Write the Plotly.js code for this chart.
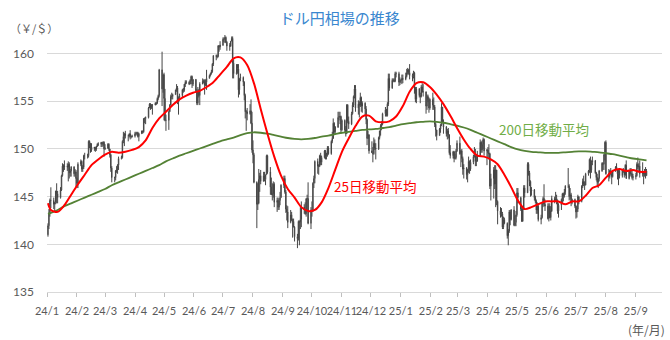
<!DOCTYPE html>
<html>
<head>
<meta charset="utf-8">
<script src="https://cdn.plot.ly/plotly-3.0.1.min.js"></script>
<style>html,body{margin:0;padding:0;background:#fff;}#chart{width:670px;height:340px;}</style>
</head>
<body>
<div id="chart"></div>
<script>
// ---- daily USD/JPY candles, trading days from 2024-01-02 to 2025-09-12 ----
const firstTradingDay = '2024-01-02';

const openPx = [
// 2024-01
141.0,141.95,143.3,144.6,144.6,144.2,144.4,145.6,145.3,144.9,145.7,147.2,148.2,148.1,148.2,148.1,148.4,147.5,147.7,148.1,147.4,147.6,
// 2024-02
146.9,146.4,148.4,148.7,147.9,148.1,149.3,149.3,149.3,150.8,150.6,149.9,150.2,150.1,150.0,150.3,150.5,150.5,150.7,150.5,150.7,
// 2024-03
150.0,150.1,150.5,150.0,149.4,148.0,147.0,147.0,147.7,147.8,148.3,149.0,149.1,150.8,151.3,151.6,151.4,151.4,151.6,151.3,151.3,
// 2024-04
151.35,151.6,151.6,151.7,151.3,151.6,151.9,151.8,153.2,153.2,153.3,154.3,154.7,154.4,154.6,154.6,154.8,154.8,155.3,155.6,158.3,156.3,
// 2024-05
157.8,155.3,153.0,153.0,153.9,154.6,155.5,155.5,155.7,156.2,156.4,154.9,155.4,155.6,156.2,156.2,156.8,157.0,157.0,156.8,157.2,157.6,156.8,
// 2024-06
157.3,156.1,154.8,156.1,155.6,156.8,157.1,157.1,156.7,157.0,157.4,157.7,157.9,158.1,158.9,159.8,159.7,159.7,160.8,160.7,
// 2024-07
160.9,161.5,161.5,161.7,161.2,160.8,160.8,161.3,161.6,159.0,157.9,158.0,158.4,156.2,157.4,157.5,157.0,155.6,153.9,153.9,153.7,154.0,152.7,
// 2024-08
149.9,149.4,146.5,144.2,144.3,146.8,147.2,146.6,147.2,146.8,147.3,149.3,147.6,146.0,145.2,145.3,146.3,144.4,144.6,143.9,144.6,144.9,
// 2024-09
146.2,146.9,145.5,143.7,143.4,142.3,143.1,142.5,142.4,141.8,140.8,140.6,142.4,142.3,142.6,143.9,143.6,143.2,144.8,144.8,142.2,
// 2024-10
143.6,143.5,146.4,146.9,148.7,148.2,148.2,149.3,148.6,149.1,149.8,149.2,149.3,150.1,149.5,150.8,151.1,152.7,151.8,152.3,153.3,153.4,153.4,
// 2024-11
152.0,153.0,152.0,151.6,154.6,152.9,152.6,153.7,154.6,155.5,156.3,154.3,154.7,154.6,155.4,154.5,154.8,154.2,153.1,151.1,151.5,
// 2024-12
149.8,149.6,149.5,150.6,150.1,150.0,151.2,151.9,152.4,152.6,153.7,154.1,153.5,154.7,157.4,156.4,157.2,157.2,157.1,157.9,157.9,157.0,
// 2025-01
157.2,157.2,157.4,157.3,157.6,158.0,158.3,158.0,157.7,157.6,158.0,156.4,155.2,156.3,155.6,155.5,156.5,156.0,156.0,154.5,155.5,155.2,154.3,
// 2025-02
155.2,154.6,154.4,152.6,152.0,151.4,152.1,152.5,154.4,152.8,152.3,151.6,151.9,151.5,149.6,149.3,149.7,149.0,149.1,149.8,
// 2025-03
150.6,149.5,149.8,149.0,147.9,148.0,147.3,147.8,148.7,147.9,148.6,149.2,149.3,148.7,148.7,149.3,150.7,149.9,150.5,151.0,149.8,
// 2025-04
149.9,149.6,149.5,146.1,146.9,147.8,146.3,147.8,144.5,143.5,143.1,143.2,141.8,142.6,142.2,140.9,141.4,143.4,142.6,143.6,142.0,142.3,
// 2025-05
143.1,145.4,144.9,143.7,142.4,143.7,145.9,145.4,148.4,147.5,146.6,145.6,145.7,144.9,144.5,143.6,144.0,142.6,142.8,144.3,144.8,144.2,
// 2025-06
144.0,142.7,144.0,142.8,143.5,144.8,144.6,144.8,144.6,143.5,144.1,144.7,145.3,145.1,145.5,146.1,146.1,145.0,145.2,144.4,144.7,
// 2025-07
144.0,143.4,143.7,145.0,144.5,146.1,146.6,146.3,146.2,147.4,147.7,148.9,147.8,148.6,148.8,147.5,147.0,146.5,146.9,147.7,148.5,148.4,149.4,
// 2025-08
150.7,147.4,147.1,147.7,147.4,147.1,147.7,148.1,147.8,147.4,147.7,147.2,147.8,147.7,147.3,148.3,146.9,147.7,147.4,147.4,147.0,
// 2025-09
147.1,147.2,148.4,148.1,148.2,147.4,147.5,147.4,147.5,147.2
];

const highPx = [
// 2024-01
142.2,143.7,144.8,145.98,144.9,144.4,145.6,146.4,145.6,146.0,147.3,148.5,148.4,148.8,148.5,148.7,148.6,147.9,148.2,148.2,147.9,147.8,
// 2024-02
147.0,148.6,148.9,148.8,148.3,149.4,149.6,149.5,150.9,150.9,150.6,150.6,150.2,150.2,150.3,150.6,150.7,150.7,150.7,150.8,150.8,
// 2024-03
150.5,150.6,150.6,150.0,149.5,148.2,147.1,147.8,148.2,148.4,149.2,149.3,150.9,151.8,151.7,151.9,151.5,151.6,151.97,151.4,151.5,
// 2024-04
151.8,151.8,151.8,151.8,151.7,151.9,151.9,153.2,153.3,153.4,154.4,154.8,154.8,154.7,154.7,154.9,154.9,155.4,155.7,158.4,160.2,157.8,
// 2024-05
158.0,156.3,153.6,154.0,154.7,155.7,155.9,155.8,156.2,156.8,156.6,155.5,155.8,156.3,156.4,156.8,157.2,157.2,157.1,157.3,157.7,157.7,157.3,
// 2024-06
157.3,156.3,156.5,156.3,157.0,157.4,157.3,157.3,157.3,158.3,157.8,158.0,158.3,159.0,159.8,159.9,159.9,160.9,160.9,161.3,
// 2024-07
161.7,161.7,161.95,161.8,161.3,161.1,161.3,161.8,161.8,159.4,158.9,158.9,158.9,157.4,157.9,157.6,157.1,155.8,154.1,154.3,154.7,155.2,153.9,
// 2024-08
150.9,149.6,146.6,146.4,147.9,147.5,147.8,147.6,147.6,147.3,149.4,149.4,148.1,147.0,146.4,146.6,146.5,144.9,144.9,144.8,145.5,146.3,
// 2024-09
147.2,147.2,145.7,144.1,144.0,143.6,143.4,142.7,142.7,141.9,141.1,142.5,142.5,143.9,144.5,144.2,144.4,144.8,145.2,146.5,143.9,
// 2024-10
144.5,146.5,147.2,148.8,149.0,148.4,149.4,149.6,149.3,149.9,149.9,149.6,150.3,150.3,150.9,151.8,153.2,152.8,152.4,153.9,153.9,153.9,153.5,
// 2024-11
153.1,153.1,152.4,154.7,154.7,153.4,153.9,154.9,155.6,156.7,156.7,155.1,155.0,155.9,155.5,155.0,154.9,154.5,153.2,151.9,151.5,
// 2024-12
150.8,150.2,151.2,151.0,150.6,151.3,151.9,152.6,152.9,153.8,154.4,154.2,154.9,157.9,157.9,157.4,157.4,157.4,158.1,158.1,158.1,157.5,
// 2025-01
157.3,157.8,157.8,158.0,158.4,158.5,158.4,158.9,157.9,158.2,158.1,156.5,156.5,156.4,155.9,156.7,156.9,156.8,156.0,155.7,155.7,155.4,155.3,
// 2025-02
155.9,155.4,154.6,152.8,152.0,152.2,152.6,154.8,154.4,153.1,152.4,152.1,152.2,151.5,150.4,149.8,149.8,149.5,150.0,150.9,
// 2025-03
151.3,149.9,150.0,149.2,148.4,148.1,147.9,149.2,148.8,148.9,149.4,150.2,150.0,149.3,149.8,151.0,150.8,150.9,151.2,151.1,150.0,
// 2025-04
150.2,150.5,149.6,147.4,148.1,148.3,148.3,147.8,144.6,143.9,143.8,143.4,142.9,142.8,142.3,141.6,143.6,143.6,143.7,144.0,143.0,143.5,
// 2025-05
145.9,145.9,145.0,144.0,143.9,146.2,146.2,148.6,148.6,147.7,146.7,146.0,145.8,145.1,144.7,144.4,144.3,143.1,144.4,145.0,146.3,144.7,
// 2025-06
144.3,144.3,144.3,144.0,145.1,145.0,145.5,145.2,144.7,144.3,144.8,145.4,145.4,145.8,146.2,148.0,146.3,145.9,145.4,144.8,144.8,
// 2025-07
144.1,144.0,145.2,145.0,146.2,146.9,147.2,146.6,147.5,147.8,149.0,149.2,148.8,149.2,148.8,147.6,147.4,147.0,147.8,148.6,148.6,149.5,150.8,
// 2025-08
150.9,147.9,147.8,148.0,147.7,147.8,148.2,148.5,147.9,147.9,147.9,147.9,148.0,147.8,148.4,148.8,147.8,148.0,148.0,147.7,147.4,
// 2025-09
147.5,148.6,149.1,148.5,148.8,148.6,147.6,147.9,148.1,147.9
];

const lowPx = [
// 2024-01
140.8,141.6,142.9,143.8,143.7,143.4,144.2,144.3,144.3,144.8,145.6,147.1,147.6,147.8,147.7,146.6,146.9,147.1,147.1,147.1,147.1,146.0,
// 2024-02
145.9,145.9,148.2,147.6,147.6,147.9,148.9,149.0,149.1,150.1,149.6,149.7,149.8,149.7,149.8,150.2,150.3,150.2,150.2,150.3,149.2,
// 2024-03
149.9,150.0,149.8,149.1,147.6,146.5,146.5,146.7,147.5,147.4,147.8,148.9,149.0,150.6,150.3,151.1,150.8,151.2,151.0,151.1,151.2,
// 2024-04
151.2,151.5,151.4,151.2,150.8,151.6,151.6,151.7,152.7,152.6,153.2,154.3,154.1,154.2,153.6,154.6,154.6,154.7,155.1,155.4,154.5,155.9,
// 2024-05
153.0,152.9,151.9,152.0,153.9,154.6,155.2,155.2,155.7,156.0,154.7,153.6,155.1,155.4,155.9,156.0,156.5,156.8,156.7,156.8,157.1,156.4,156.6,
// 2024-06
156.0,154.6,154.6,155.4,154.6,156.8,156.9,155.7,156.6,156.2,157.4,157.6,157.8,158.0,158.7,159.3,159.5,159.6,160.2,160.4,
// 2024-07
160.8,161.2,161.1,161.1,160.3,160.3,160.7,161.3,157.4,157.4,157.8,157.9,155.4,155.7,157.1,156.6,155.1,153.2,151.9,153.0,153.6,152.6,149.6,
// 2024-08
148.5,146.4,141.7,143.6,144.2,145.5,146.3,146.6,146.6,146.2,147.3,147.4,145.2,145.2,144.6,144.9,143.9,143.4,143.6,143.6,144.1,144.9,
// 2024-09
145.9,145.3,143.3,142.5,141.7,142.2,142.5,140.7,141.8,140.3,139.6,140.4,139.9,141.6,141.8,143.2,143.1,142.9,143.5,142.1,141.6,
// 2024-10
142.9,143.4,145.9,146.4,147.4,147.3,148.1,148.3,148.3,149.0,148.9,148.9,149.2,149.4,149.4,150.6,151.1,151.5,151.6,152.2,153.0,152.6,151.6,
// 2024-11
151.9,151.7,151.3,151.6,152.7,152.1,152.5,153.6,154.4,155.3,153.9,153.6,153.3,154.4,153.9,153.8,153.5,152.6,150.4,151.1,149.5,
// 2024-12
149.6,148.6,149.4,149.9,148.9,149.9,151.0,151.4,152.0,152.5,153.4,153.4,153.4,154.5,156.1,156.3,157.0,157.0,157.0,157.5,156.6,156.7,
// 2025-01
156.9,156.8,156.9,157.2,157.5,157.8,157.8,157.3,157.1,157.4,155.8,154.9,154.8,155.4,154.8,155.4,155.9,155.5,153.7,154.1,154.9,153.8,154.1,
// 2025-02
154.1,154.1,152.3,151.3,150.9,151.4,151.7,152.4,152.8,151.6,151.3,151.0,151.1,149.4,149.0,149.0,148.6,148.9,148.9,149.7,
// 2025-03
149.4,148.1,148.6,147.3,146.9,146.8,146.5,147.5,147.4,147.7,148.4,149.1,148.2,148.2,148.7,149.3,149.6,149.6,150.0,149.3,148.3,
// 2025-04
149.1,148.9,145.8,144.6,144.8,145.8,143.9,144.1,142.1,142.8,142.9,141.6,141.6,142.1,140.6,139.9,141.2,142.0,142.5,141.9,141.9,141.9,
// 2025-05
142.9,144.3,143.5,142.4,142.4,143.6,144.9,145.4,147.2,146.1,145.0,145.1,144.6,144.3,143.2,143.2,142.4,142.1,142.7,143.9,144.0,143.5,
// 2025-06
142.6,142.4,142.8,142.5,143.4,144.3,144.5,144.2,143.2,142.8,143.6,144.3,144.5,144.9,145.2,145.9,144.6,144.7,144.0,144.2,143.8,
// 2025-07
142.7,142.8,143.4,144.2,144.4,145.9,146.1,145.7,146.2,147.2,147.5,146.9,147.5,148.3,147.4,146.7,146.2,145.9,146.6,147.6,147.8,147.8,148.8,
// 2025-08
147.3,146.6,146.9,147.3,146.3,147.0,147.6,147.9,146.8,146.2,146.9,147.0,147.5,147.0,147.2,146.9,146.8,147.1,147.2,146.8,146.7,
// 2025-09
146.8,147.1,147.9,147.7,147.0,147.1,146.3,147.1,146.9,147.2
];

const closePx = [
// 2024-01
141.95,143.3,144.6,144.6,144.2,144.4,145.6,145.3,144.9,145.7,147.2,148.2,148.1,148.2,148.1,148.4,147.5,147.7,148.1,147.4,147.6,146.9,
// 2024-02
146.4,148.4,148.7,147.9,148.1,149.3,149.3,149.3,150.8,150.6,149.9,150.2,150.1,150.0,150.3,150.5,150.5,150.7,150.5,150.7,150.0,
// 2024-03
150.1,150.5,150.0,149.4,148.0,147.0,147.0,147.7,147.8,148.3,149.0,149.1,150.8,151.3,151.6,151.4,151.4,151.6,151.3,151.3,151.35,
// 2024-04
151.6,151.6,151.7,151.3,151.6,151.9,151.8,153.2,153.2,153.3,154.3,154.7,154.4,154.6,154.6,154.8,154.8,155.3,155.6,158.3,156.3,157.8,
// 2024-05
155.3,153.0,153.0,153.9,154.6,155.5,155.5,155.7,156.2,156.4,154.9,155.4,155.6,156.2,156.2,156.8,157.0,157.0,156.8,157.2,157.6,156.8,157.3,
// 2024-06
156.1,154.8,156.1,155.6,156.8,157.1,157.1,156.7,157.0,157.4,157.7,157.9,158.1,158.9,159.8,159.7,159.7,160.8,160.7,160.9,
// 2024-07
161.5,161.5,161.7,161.2,160.8,160.8,161.3,161.6,159.0,157.9,158.0,158.4,156.2,157.4,157.5,157.0,155.6,153.9,153.9,153.7,154.0,152.7,149.9,
// 2024-08
149.4,146.5,144.2,144.3,146.8,147.2,146.6,147.2,146.8,147.3,149.3,147.6,146.0,145.2,145.3,146.3,144.4,144.6,143.9,144.6,144.9,146.2,
// 2024-09
146.9,145.5,143.7,143.4,142.3,143.1,142.5,142.4,141.8,140.8,140.6,142.4,142.3,142.6,143.9,143.6,143.2,144.8,144.8,142.2,143.6,
// 2024-10
143.5,146.4,146.9,148.7,148.2,148.2,149.3,148.6,149.1,149.8,149.2,149.3,150.1,149.5,150.8,151.1,152.7,151.8,152.3,153.3,153.4,153.4,152.0,
// 2024-11
153.0,152.0,151.6,154.6,152.9,152.6,153.7,154.6,155.5,156.3,154.3,154.7,154.6,155.4,154.5,154.8,154.2,153.1,151.1,151.5,149.8,
// 2024-12
149.6,149.5,150.6,150.1,150.0,151.2,151.9,152.4,152.6,153.7,154.1,153.5,154.7,157.4,156.4,157.2,157.2,157.1,157.9,157.9,157.0,157.2,
// 2025-01
157.2,157.4,157.3,157.6,158.0,158.3,158.0,157.7,157.6,158.0,156.4,155.2,156.3,155.6,155.5,156.5,156.0,156.0,154.5,155.5,155.2,154.3,155.2,
// 2025-02
154.6,154.4,152.6,152.0,151.4,152.1,152.5,154.4,152.8,152.3,151.6,151.9,151.5,149.6,149.3,149.7,149.0,149.1,149.8,150.6,
// 2025-03
149.5,149.8,149.0,147.9,148.0,147.3,147.8,148.7,147.9,148.6,149.2,149.3,148.7,148.7,149.3,150.7,149.9,150.5,151.0,149.8,149.9,
// 2025-04
149.6,149.5,146.1,146.9,147.8,146.3,147.8,144.5,143.5,143.1,143.2,141.8,142.6,142.2,140.9,141.4,143.4,142.6,143.6,142.0,142.3,143.1,
// 2025-05
145.4,144.9,143.7,142.4,143.7,145.9,145.4,148.4,147.5,146.6,145.6,145.7,144.9,144.5,143.6,144.0,142.6,142.8,144.3,144.8,144.2,144.0,
// 2025-06
142.7,144.0,142.8,143.5,144.8,144.6,144.8,144.6,143.5,144.1,144.7,145.3,145.1,145.5,146.1,146.1,145.0,145.2,144.4,144.7,144.0,
// 2025-07
143.4,143.7,145.0,144.5,146.1,146.6,146.3,146.2,147.4,147.7,148.9,147.8,148.6,148.8,147.5,147.0,146.5,146.9,147.7,148.5,148.4,149.4,150.7,
// 2025-08
147.4,147.1,147.7,147.4,147.1,147.7,148.1,147.8,147.4,147.7,147.2,147.8,147.7,147.3,148.3,146.9,147.7,147.4,147.4,147.0,147.1,
// 2025-09
147.2,148.4,148.1,148.2,147.4,147.5,147.4,147.5,147.2,147.7
];

// ---- moving averages: first trading day, then every Friday ----
const ma25 = [
144.3,
143.6,143.4,144.1,145.2,146.3,147.3,148.3,148.9,149.4,149.7,
149.6,149.7,149.9,150.2,150.9,152.2,153.2,153.9,154.6,155.2,
155.6,155.9,156.1,156.5,157.0,157.8,158.6,159.5,159.6,158.8,
156.9,154.2,151.6,149.2,147.2,145.8,144.9,143.9,143.5,143.6,
144.4,145.9,147.8,149.7,151.1,152.4,153.4,153.5,152.9,152.8,
152.9,153.4,154.5,156.0,156.9,157.0,156.5,155.7,154.7,153.5,
152.2,151.0,150.0,149.3,149.2,148.9,148.4,147.3,146.0,144.6,
143.7,143.9,144.2,144.5,144.5,144.5,144.2,144.5,144.5,145.1,
145.9,146.2,147.0,147.7,147.9,147.7,147.8,147.6,147.6
];
const ma200 = [
143.2,
143.3,143.6,144.0,144.3,144.6,144.9,145.2,145.5,145.8,146.2,
146.5,146.8,147.1,147.4,147.7,148.0,148.3,148.7,149.0,149.3,
149.55,149.8,150.05,150.3,150.55,150.8,151.0,151.2,151.45,151.65,
151.75,151.7,151.6,151.45,151.3,151.15,151.05,151.0,151.05,151.15,
151.3,151.4,151.55,151.7,151.8,151.9,152.0,152.05,152.1,152.2,
152.3,152.45,152.6,152.7,152.8,152.85,152.9,152.85,152.75,152.6,
152.45,152.25,152.0,151.7,151.4,151.1,150.8,150.5,150.2,149.95,
149.8,149.7,149.65,149.6,149.6,149.6,149.65,149.7,149.75,149.75,
149.7,149.65,149.55,149.45,149.3,149.15,149.0,148.9,148.8
];

const monthTicks = ['2024-01-01','2024-02-01','2024-03-01','2024-04-01','2024-05-01','2024-06-01','2024-07-01',
  '2024-08-01','2024-09-01','2024-10-01','2024-11-01','2024-12-01','2025-01-01','2025-02-01','2025-03-01',
  '2025-04-01','2025-05-01','2025-06-01','2025-07-01','2025-08-01','2025-09-01'];
const monthLabels = ['24/1','24/2','24/3','24/4','24/5','24/6','24/7','24/8','24/9','24/10','24/11','24/12',
  '25/1','25/2','25/3','25/4','25/5','25/6','25/7','25/8','25/9'];
const yTicks = [135,140,145,150,155,160];

// ---- build trading calendar (weekdays) ----
function weekdays(start, n){
  const out = []; const d = new Date(start + 'T00:00:00Z');
  while (out.length < n){
    const w = d.getUTCDay();
    if (w !== 0 && w !== 6) out.push(d.toISOString().slice(0,10));
    d.setUTCDate(d.getUTCDate() + 1);
  }
  return out;
}
if (openPx.length !== closePx.length || highPx.length !== closePx.length || lowPx.length !== closePx.length)
  throw new Error('length mismatch O'+openPx.length+' H'+highPx.length+' L'+lowPx.length+' C'+closePx.length);
const dates = weekdays(firstTradingDay, closePx.length);
const maDates = [dates[0]];
for (let i = 3; i < dates.length; i += 5) maDates.push(dates[i]);
if (maDates.length !== ma25.length || maDates.length !== ma200.length)
  throw new Error('MA length mismatch '+maDates.length+' '+ma25.length+' '+ma200.length);

const tickFont = {family:'Lato, "Noto Sans", sans-serif', size:12, color:'#595959'};
const jp = '"Noto Sans CJK JP", "Noto Sans", sans-serif';

const traces = [
  {type:'candlestick', x:dates, open:openPx, high:highPx, low:lowPx, close:closePx,
   increasing:{line:{color:'#454545', width:1}, fillcolor:'#ffffff'},
   decreasing:{line:{color:'#454545', width:1}, fillcolor:'#454545'},
   whiskerwidth:0, hoverinfo:'skip', showlegend:false},
  {type:'scatter', mode:'lines', x:maDates, y:ma200, line:{color:'#548235', width:1.8, shape:'spline', smoothing:0.8},
   hoverinfo:'skip', showlegend:false},
  {type:'scatter', mode:'lines', x:maDates, y:ma25, line:{color:'#ff0000', width:2, shape:'spline', smoothing:0.8},
   hoverinfo:'skip', showlegend:false}
];

const layout = {
  width:670, height:340,
  margin:{l:47, r:8, t:25, b:48},
  paper_bgcolor:'#ffffff', plot_bgcolor:'#ffffff',
  showlegend:false,
  title:{text:'ドル円相場の推移', font:{family:jp, size:15, color:'#3a87cf'},
         x:0.507, xref:'container', xanchor:'center', y:0.944, yref:'container', yanchor:'middle'},
  xaxis:{type:'date', range:['2024-01-01','2025-09-28'], rangeslider:{visible:false},
         tickmode:'array', tickvals:monthTicks, ticktext:monthLabels, tickangle:0,
         ticks:'outside', ticklen:4, tickcolor:'#bfbfbf', tickwidth:1,
         showgrid:false, showline:true, linecolor:'#d9d9d9', linewidth:1, zeroline:false,
         tickfont:{family:'Lato, "Noto Sans", sans-serif', size:11, color:'#595959'},
         ticklabelstandoff:5, fixedrange:true},
  yaxis:{range:[135,163], tickmode:'array', tickvals:yTicks, ticks:'', showgrid:true, gridcolor:'#d9d9d9',
         gridwidth:1, zeroline:false, showline:false, tickfont:tickFont, ticklabelstandoff:12, fixedrange:true},
  annotations:[
    {xref:'paper', yref:'paper', x:-0.021, y:0.989, text:'（￥/＄）', showarrow:false,
     font:{family:jp, size:11, color:'#595959'}, xanchor:'center', yanchor:'middle'},
    {xref:'paper', yref:'paper', x:0.974, y:-0.139, text:'(年/月)', showarrow:false,
     font:{family:jp, size:12, color:'#595959'}, xanchor:'center', yanchor:'middle'},
    {x:'2025-05-29', y:152.1, text:'200日移動平均', showarrow:false,
     font:{family:jp, size:13.5, color:'#70ad47'}, xanchor:'center', yanchor:'middle'},
    {x:'2024-12-06', y:146.1, text:'25日移動平均', showarrow:false,
     font:{family:jp, size:13.5, color:'#ff0000'}, xanchor:'center', yanchor:'middle'}
  ]
};

Plotly.newPlot('chart', traces, layout, {displayModeBar:false, staticPlot:true});
</script>
</body>
</html>
